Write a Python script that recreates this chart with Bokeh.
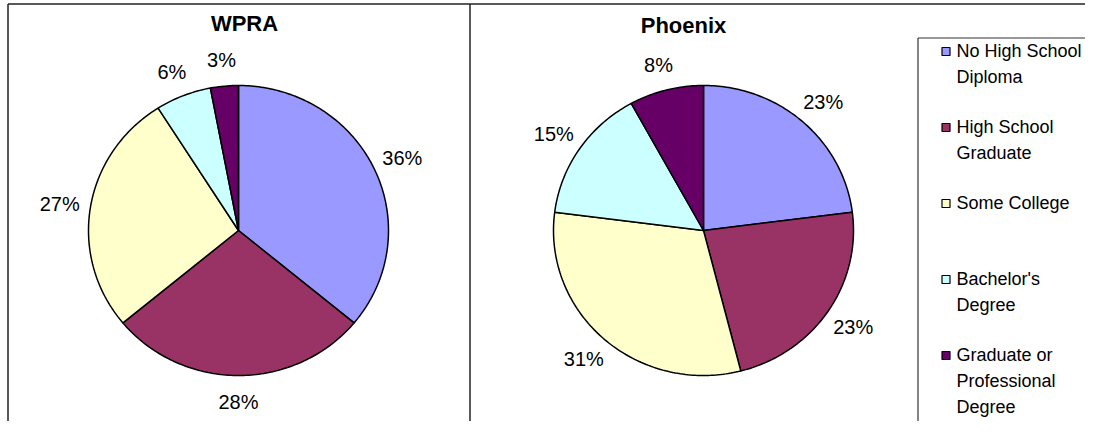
import numpy as np
from bokeh.plotting import figure
from bokeh.models import Range1d
from bokeh.embed import file_html
from bokeh.resources import INLINE
from bokeh.core.properties import value

# ---- data ----
categories = ["No High School Diploma", "High School Graduate", "Some College",
              "Bachelor's Degree", "Graduate or Professional Degree"]
legend_lines = [["No High School", "Diploma"], ["High School", "Graduate"],
                ["Some College"], ["Bachelor's", "Degree"],
                ["Graduate or", "Professional", "Degree"]]
wpra = [36, 28, 27, 6, 3]
phoenix = [23, 23, 31, 15, 8]
colors = ["#9999FF", "#993366", "#FFFFCC", "#CCFFFF", "#660066"]
titles = ["WPRA", "Phoenix"]

FONT = "Liberation Sans"

# coordinates are picture pixels (y downward)
p = figure(width=1085, height=421, x_range=Range1d(0, 1085), y_range=Range1d(421, 0),
           output_backend="svg", toolbar_location=None, min_border=0)
p.axis.visible = False
p.grid.visible = False
p.outline_line_color = None
p.background_fill_color = "white"
p.border_fill_color = "white"

# panel frames
p.multi_line(xs=[[7.5, 7.5], [7.5, 1085], [469.5, 469.5]],
             ys=[[3.5, 421], [3.5, 3.5], [3.5, 421]],
             line_color="#222222", line_width=1.5)


def draw_pie(vals, cx, cy, rx, ry, title, tx, ty):
    vals = np.asarray(vals, dtype=float)
    frac = vals / vals.sum()
    ends = np.cumsum(frac) * 2 * np.pi
    starts = ends - frac * 2 * np.pi
    xs, ys = [], []
    for a0, a1 in zip(starts, ends):
        t = np.linspace(a0, a1, max(4, int((a1 - a0) * 60)))
        xs.append([cx] + list(cx + rx * np.sin(t)) + [cx])
        ys.append([cy] + list(cy - ry * np.cos(t)) + [cy])
    p.patches(xs=xs, ys=ys, fill_color=colors, line_color="black", line_width=1.5)
    mids = (starts + ends) / 2
    lx = cx + (rx + 31) * np.sin(mids)
    ly = cy - (ry + 26) * np.cos(mids)
    labels = ["%d%%" % round(v) for v in vals]
    p.text(x=lx, y=ly, text=labels, text_align="center", text_baseline="middle",
           text_font=value(FONT), text_font_size="20px", text_color="black")
    p.text(x=[tx], y=[ty], text=[title], text_align="center", text_baseline="middle",
           text_font=value(FONT), text_font_size="22px", text_font_style="bold",
           text_color="black")


draw_pie(wpra, 238, 230, 150, 145, titles[0], 244, 23)
draw_pie(phoenix, 703, 230, 150, 145, titles[1], 683, 25)

# legend
p.multi_line(xs=[[917.5, 917.5], [917.5, 1085]], ys=[[421, 37.5], [37.5, 37.5]],
             line_color="#333333", line_width=1.2)
lx, ly, lt = [], [], []
sq_y = []
for i, lines in enumerate(legend_lines):
    y0 = 50 + 76 * i
    sq_y.append(y0 + 1)
    for j, s in enumerate(lines):
        lx.append(956)
        ly.append(y0 + 26 * j)
        lt.append(s)
p.rect(x=[945.5] * len(colors), y=sq_y, width=8, height=8, fill_color=colors,
       line_color="black", line_width=1.2)
p.text(x=lx, y=ly, text=lt, text_align="left", text_baseline="middle",
       text_font=value(FONT), text_font_size="18px", text_color="black")

open("out.html", "w").write(file_html(p, INLINE))
